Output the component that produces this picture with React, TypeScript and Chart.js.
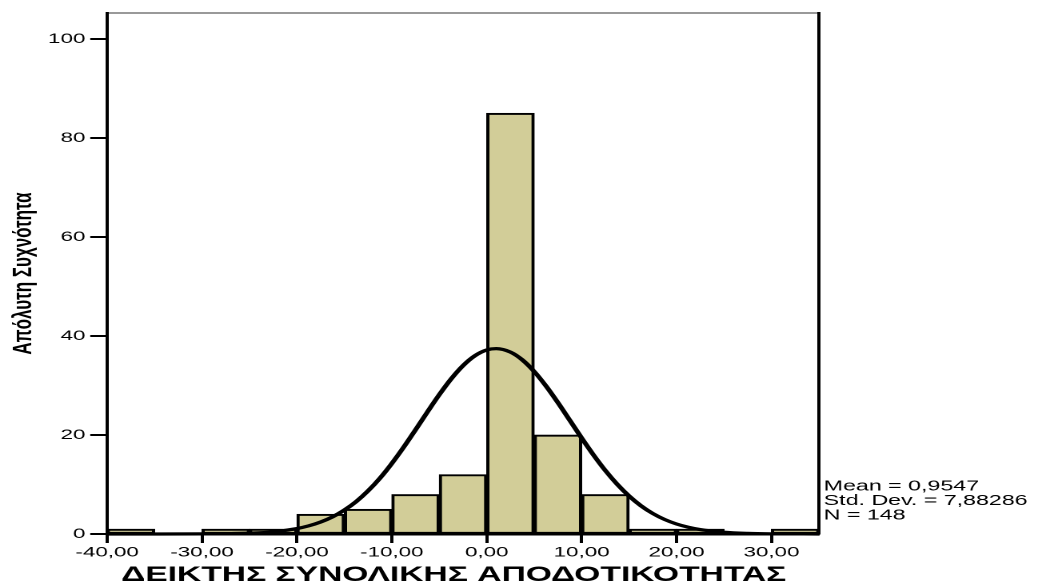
import React, { useEffect, useRef } from "react";
import { Chart, registerables } from "chart.js";

Chart.register(...registerables);

// ---- data ----
const binCenters = [-37.5, -32.5, -27.5, -22.5, -17.5, -12.5, -7.5, -2.5, 2.5, 7.5, 12.5, 17.5, 22.5, 27.5, 32.5];
const binCounts = [1, 0, 1, 1, 4, 5, 8, 12, 85, 20, 8, 1, 1, 0, 1];

const curveX = [
  -40, -35, -30, -27.5, -25, -22.5, -20, -18.75, -17.5, -16.25, -15, -13.75, -12.5, -11.25, -10, -8.75, -7.5,
  -6.25, -5, -3.75, -2.5, -1.25, 0, 1, 2.5, 3.75, 5, 6.25, 7.5, 8.75, 10, 11.25, 12.5, 13.75, 15, 16.25,
  17.5, 18.75, 20, 21.25, 22.5, 25, 27.5, 30, 35,
];
const curveY = [
  0, 0, 0.02, 0.06, 0.17, 0.45, 1.1, 1.65, 2.42, 3.46, 4.84, 6.57, 8.73, 11.29, 14.26, 17.55, 21.07,
  24.66, 28.15, 31.34, 34.02, 36.01, 37.18, 37.45, 36.74, 35.17, 32.83, 29.88, 26.53, 22.97, 19.39, 15.96, 12.81, 10.03, 7.66, 5.7,
  4.14, 2.93, 2.02, 1.36, 0.89, 0.36, 0.13, 0.04, 0,
];

const xTickValues = [-40, -30, -20, -10, 0, 10, 20, 30];
const xTickLabels = ["-40,00", "-30,00", "-20,00", "-10,00", "0,00", "10,00", "20,00", "30,00"];
const yTickValues = [0, 20, 40, 60, 80, 100];
const yTickLabels = ["0", "20", "40", "60", "80", "100"];

const statsLines = ["Mean = 0,9547", "Std. Dev. = 7,88286", "N = 148"];
const xTitle = "ΔΕΙΚΤΗΣ ΣΥΝΟΛΙΚΗΣ ΑΠΟΔΟΤΙΚΟΤΗΤΑΣ";
const yTitle = "Απόλυτη Συχνότητα";

// ---- layout ----
const STRETCH = 1.6;
const W = Math.round(1038 / STRETCH);
const H = 582;
const FAMILY = '"Liberation Sans", Arial, Helvetica, sans-serif';

const statsPlugin = {
  id: "statsText",
  afterDraw(chart: any) {
    const ctx = chart.ctx;
    ctx.save();
    ctx.font = `14.5px ${FAMILY}`;
    ctx.fillStyle = "#000";
    ctx.textAlign = "left";
    ctx.textBaseline = "middle";
    statsLines.forEach((t, i) => {
      ctx.fillText(t, chart.chartArea.right + 3, 486.5 + i * 14.5);
    });
    ctx.restore();
  },
};

export default function App() {
  const ref = useRef<HTMLCanvasElement>(null);

  useEffect(() => {
    const chart = new Chart(ref.current as HTMLCanvasElement, {
      type: "bar",
      data: {
        datasets: [
          {
            type: "line",
            label: "Normal",
            data: curveX.map((x, i) => ({ x, y: curveY[i] })),
            borderColor: "#000",
            borderWidth: 3.2,
            pointRadius: 0,
            cubicInterpolationMode: "monotone",
            fill: false,
            clip: 6,
            order: 0,
          } as any,
          {
            type: "bar",
            label: "Frequency",
            data: binCenters.map((x, i) => ({ x, y: binCounts[i] })),
            backgroundColor: "#D2CD98",
            borderColor: "#000",
            borderWidth: 2,
            borderSkipped: false,
            barPercentage: 1,
            categoryPercentage: 1,
            order: 1,
          } as any,
        ],
      },
      options: {
        animation: false,
        responsive: false,
        devicePixelRatio: 2,
        layout: { padding: { left: 0, right: W - 512, top: 13, bottom: 0 } },
        plugins: { legend: { display: false }, tooltip: { enabled: false } },
        scales: {
          x: {
            type: "linear",
            position: "bottom",
            min: -40,
            max: 35,
            offset: false,
            afterBuildTicks: (s: any) => {
              s.ticks = xTickValues.map((v) => ({ value: v }));
            },
            afterFit: (s: any) => {
              s.height = 48;
            },
            ticks: {
              autoSkip: false,
              maxRotation: 0,
              padding: 1,
              color: "#000",
              font: { family: FAMILY, size: 14 },
              callback: (v: any) => xTickLabels[xTickValues.indexOf(Number(v))],
            },
            grid: {
              offset: false,
              drawOnChartArea: false,
              drawTicks: true,
              tickLength: 9,
              tickWidth: 2,
              color: "#000",
            },
            border: { display: true, color: "#000", width: 2.5 },
            title: {
              display: true,
              text: xTitle + "\u00A0\u00A0",
              color: "#000",
              padding: 0,
              font: { family: FAMILY, size: 21, weight: "bold", lineHeight: 0.667 },
            },
          },
          xTop: {
            type: "linear",
            position: "top",
            min: -40,
            max: 35,
            afterFit: (s: any) => {
              s.height = 0;
            },
            ticks: { display: false },
            grid: { offset: false, drawOnChartArea: false, drawTicks: false },
            border: { display: true, color: "#333", width: 1 },
          },
          y: {
            type: "linear",
            position: "left",
            min: 0,
            max: 105.25,
            afterBuildTicks: (s: any) => {
              s.ticks = yTickValues.map((v) => ({ value: v }));
            },
            afterFit: (s: any) => {
              s.width = 67;
            },
            ticks: {
              padding: 3,
              color: "#000",
              font: { family: FAMILY, size: 14 },
              callback: (v: any) => yTickLabels[yTickValues.indexOf(Number(v))],
            },
            grid: { drawOnChartArea: false, drawTicks: true, tickLength: 10.6, tickWidth: 2, color: "#000" },
            border: { display: true, color: "#000", width: 2 },
            title: {
              display: true,
              text: yTitle,
              color: "#000",
              padding: { top: 6.5, bottom: 0 },
              font: { family: FAMILY, size: 17, weight: "bold", lineHeight: 1 },
            },
          },
          yRight: {
            type: "linear",
            position: "right",
            min: 0,
            max: 105.25,
            afterFit: (s: any) => {
              s.width = 0;
            },
            ticks: { display: false },
            grid: { drawOnChartArea: false, drawTicks: false },
            border: { display: true, color: "#000", width: 2 },
          },
        },
      } as any,
      plugins: [statsPlugin],
    });
    return () => chart.destroy();
  }, []);

  return (
    <div
      style={{
        position: "fixed",
        left: 0,
        top: 0,
        width: 1038,
        height: H,
        overflow: "hidden",
        background: "#fff",
      }}
    >
      <div
        style={{
          width: W,
          height: H,
          transform: `scaleX(${1038 / W})`,
          transformOrigin: "0 0",
        }}
      >
        <canvas ref={ref} width={W} height={H} style={{ display: "block" }} />
      </div>
    </div>
  );
}
